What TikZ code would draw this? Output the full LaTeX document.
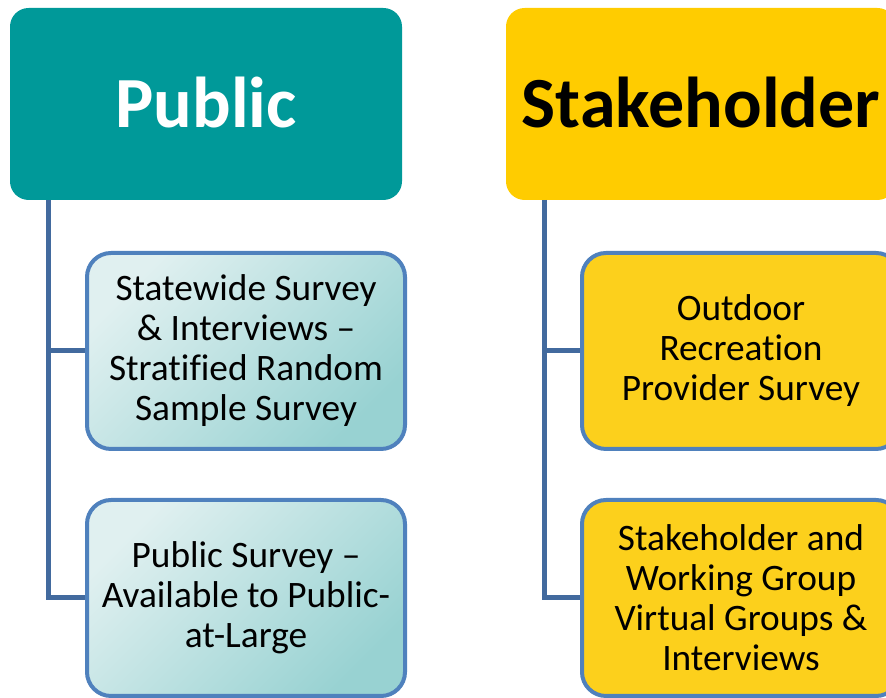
\documentclass[tikz,border=0pt]{standalone}
\usepackage{fontspec}
\setmainfont{Carlito}[Ligatures=NoCommon]
\usepackage{tikz}
\usetikzlibrary{positioning,calc}

\definecolor{tealhead}{RGB}{0,153,153}
\definecolor{goldhead}{RGB}{255,204,0}
\definecolor{goldbox}{RGB}{252,208,28}
\definecolor{tealtop}{RGB}{224,240,240}
\definecolor{tealbot}{RGB}{152,210,210}
\definecolor{boxedge}{RGB}{79,129,189}
\definecolor{trunk}{RGB}{66,106,158}

\tikzset{
  head/.style={rounded corners=14pt, minimum width=392*0.75pt, minimum height=192*0.75pt,
    font=\fontsize{54}{60}\selectfont\bfseries, inner sep=0pt},
  item/.style={rounded corners=18pt, draw=boxedge, line width=3pt, minimum width=318*0.75pt,
    minimum height=196*0.75pt, align=center, inner sep=0pt,
    font=\fontsize{28}{30}\selectfont},
  tealitem/.style={item, top color=tealtop, bottom color=tealbot, shading angle=45},
  golditem/.style={item, fill=goldbox},
  link/.style={trunk, line width=3.75pt}
}

\begin{document}
\begin{tikzpicture}[x=0.75pt,y=0.75pt]
    \useasboundingbox (0,0) rectangle (886,698);
    \clip (0,0) rectangle (886,698);

    % the two headers
    \node[head, fill=tealhead, text=white] (public) at (206,594) {\raisebox{3pt}{Public}};
    \node[head, fill=goldhead, minimum width=390*0.75pt] (stake) at (701,594) {\raisebox{3pt}{Stakeholder}};

    % corners of the branch lines
    \coordinate (pubtop) at (48,498);
    \coordinate (pubbot) at (48,100);
    \coordinate (stktop) at (544,498);
    \coordinate (stkbot) at (544,100);

    % the boxes
    \node[tealitem] (statewide) at (246,347)
      {Statewide Survey\\ \& Interviews --\\ Stratified Random\\ Sample Survey};
    \node[tealitem] (pubsurvey) at (246,100)
      {Public Survey --\\ Available to Public-\\ at-Large};
    \node[golditem] (provider) at (741,347)
      {Outdoor\\ Recreation\\ Provider Survey};
    \node[golditem] (working) at (741,100)
      {Stakeholder and\\ Working Group\\ Virtual Groups \&\\ Interviews};

    % connectors
    \draw[link] (pubtop) -- (pubbot) -- (pubsurvey.west);
    \draw[link] (pubtop |- statewide.west) -- (statewide.west);
    \draw[link] (stktop) -- (stkbot) -- (working.west);
    \draw[link] (stktop |- provider.west) -- (provider.west);
\end{tikzpicture}
\end{document}
